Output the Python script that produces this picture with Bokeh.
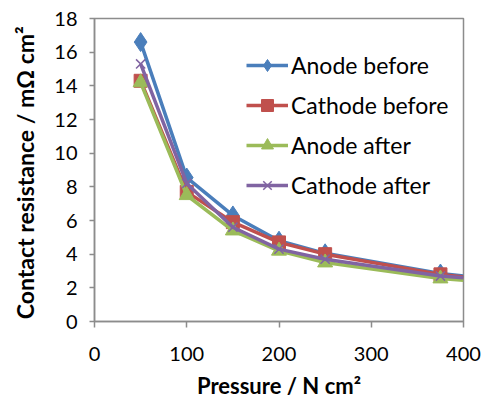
from bokeh.plotting import figure
from bokeh.models import Range1d, FixedTicker, Legend, LegendItem
from bokeh.embed import file_html
from bokeh.resources import INLINE

pressure = [50, 100, 150, 200, 250, 375, 400]
anode_before = [16.6, 8.55, 6.3, 4.8, 4.05, 2.85, 2.7]
cathode_before = [14.3, 7.7, 5.9, 4.7, 4.0, 2.8, 2.65]
anode_after = [14.2, 7.5, 5.4, 4.2, 3.5, 2.55, 2.45]
cathode_after = [15.3, 8.2, 5.6, 4.3, 3.7, 2.7, 2.6]
n_marked = 6

x_ticks = [0, 100, 200, 300, 400]
y_ticks = [0, 2, 4, 6, 8, 10, 12, 14, 16, 18]

FONT = "Lato"

p = figure(width=484, height=401, output_backend="svg", toolbar_location=None,
           x_range=Range1d(0, 400), y_range=Range1d(0, 18),
           min_border_left=94, min_border_right=21, min_border_top=18, min_border_bottom=80)
p.xgrid.visible = False
p.ygrid.visible = False
p.outline_line_color = "#8c8c8c"
p.outline_line_width = 1.5
p.background_fill_color = "white"
p.border_fill_color = "white"

series = [
    ("Anode before", anode_before, "#4a7ebb", "diamond", 19),
    ("Cathode before", cathode_before, "#c0504d", "square", 13),
    ("Anode after", anode_after, "#9bbb59", "triangle", 15),
    ("Cathode after", cathode_after, "#8064a2", "x", 13),
]

items = []
for name, vals, color, marker, size in series:
    l = p.line(pressure, vals, line_color=color, line_width=3.5)
    kw = dict(size=size, marker=marker, fill_color=color, line_color=color)
    if marker == "x":
        kw["line_width"] = 1.5
    m = p.scatter(pressure[:n_marked], vals[:n_marked], **kw)
    items.append(LegendItem(label=name, renderers=[l, m]))

legend = Legend(items=items, location=(152, 121), background_fill_alpha=0,
                border_line_alpha=0, label_text_font=FONT, label_text_font_size="23px",
                glyph_width=42, glyph_height=30, spacing=10, label_standoff=3,
                padding=0, margin=0, label_text_color="black")
p.add_layout(legend, "center")

for ax in (p.xaxis[0], p.yaxis[0]):
    ax.axis_line_color = "#8c8c8c"
    ax.axis_line_width = 1.5
    ax.major_tick_line_color = "#8c8c8c"
    ax.major_tick_line_width = 1.5
    ax.minor_tick_line_color = None
    ax.major_tick_in = 0
    ax.major_label_text_font = FONT
    ax.major_label_text_font_size = "20px"
    ax.major_label_text_color = "black"
    ax.axis_label_text_font = FONT
    ax.axis_label_text_font_size = "22px"
    ax.axis_label_text_font_style = "bold"
    ax.axis_label_text_color = "black"

p.yaxis.axis_label_text_font_size = "23px"
p.xaxis.ticker = FixedTicker(ticks=x_ticks)
p.yaxis.ticker = FixedTicker(ticks=y_ticks)
p.xaxis.major_tick_out = 6
p.yaxis.major_tick_out = 5
p.xaxis.major_label_standoff = 19
p.yaxis.major_label_standoff = 12
p.xaxis.axis_label = "Pressure / N cm²"
p.yaxis.axis_label = "Contact resistance  / mΩ cm²"
p.xaxis.axis_label_standoff = 8
p.yaxis.axis_label_standoff = 12

open("out.html", "w").write(file_html(p, INLINE))
